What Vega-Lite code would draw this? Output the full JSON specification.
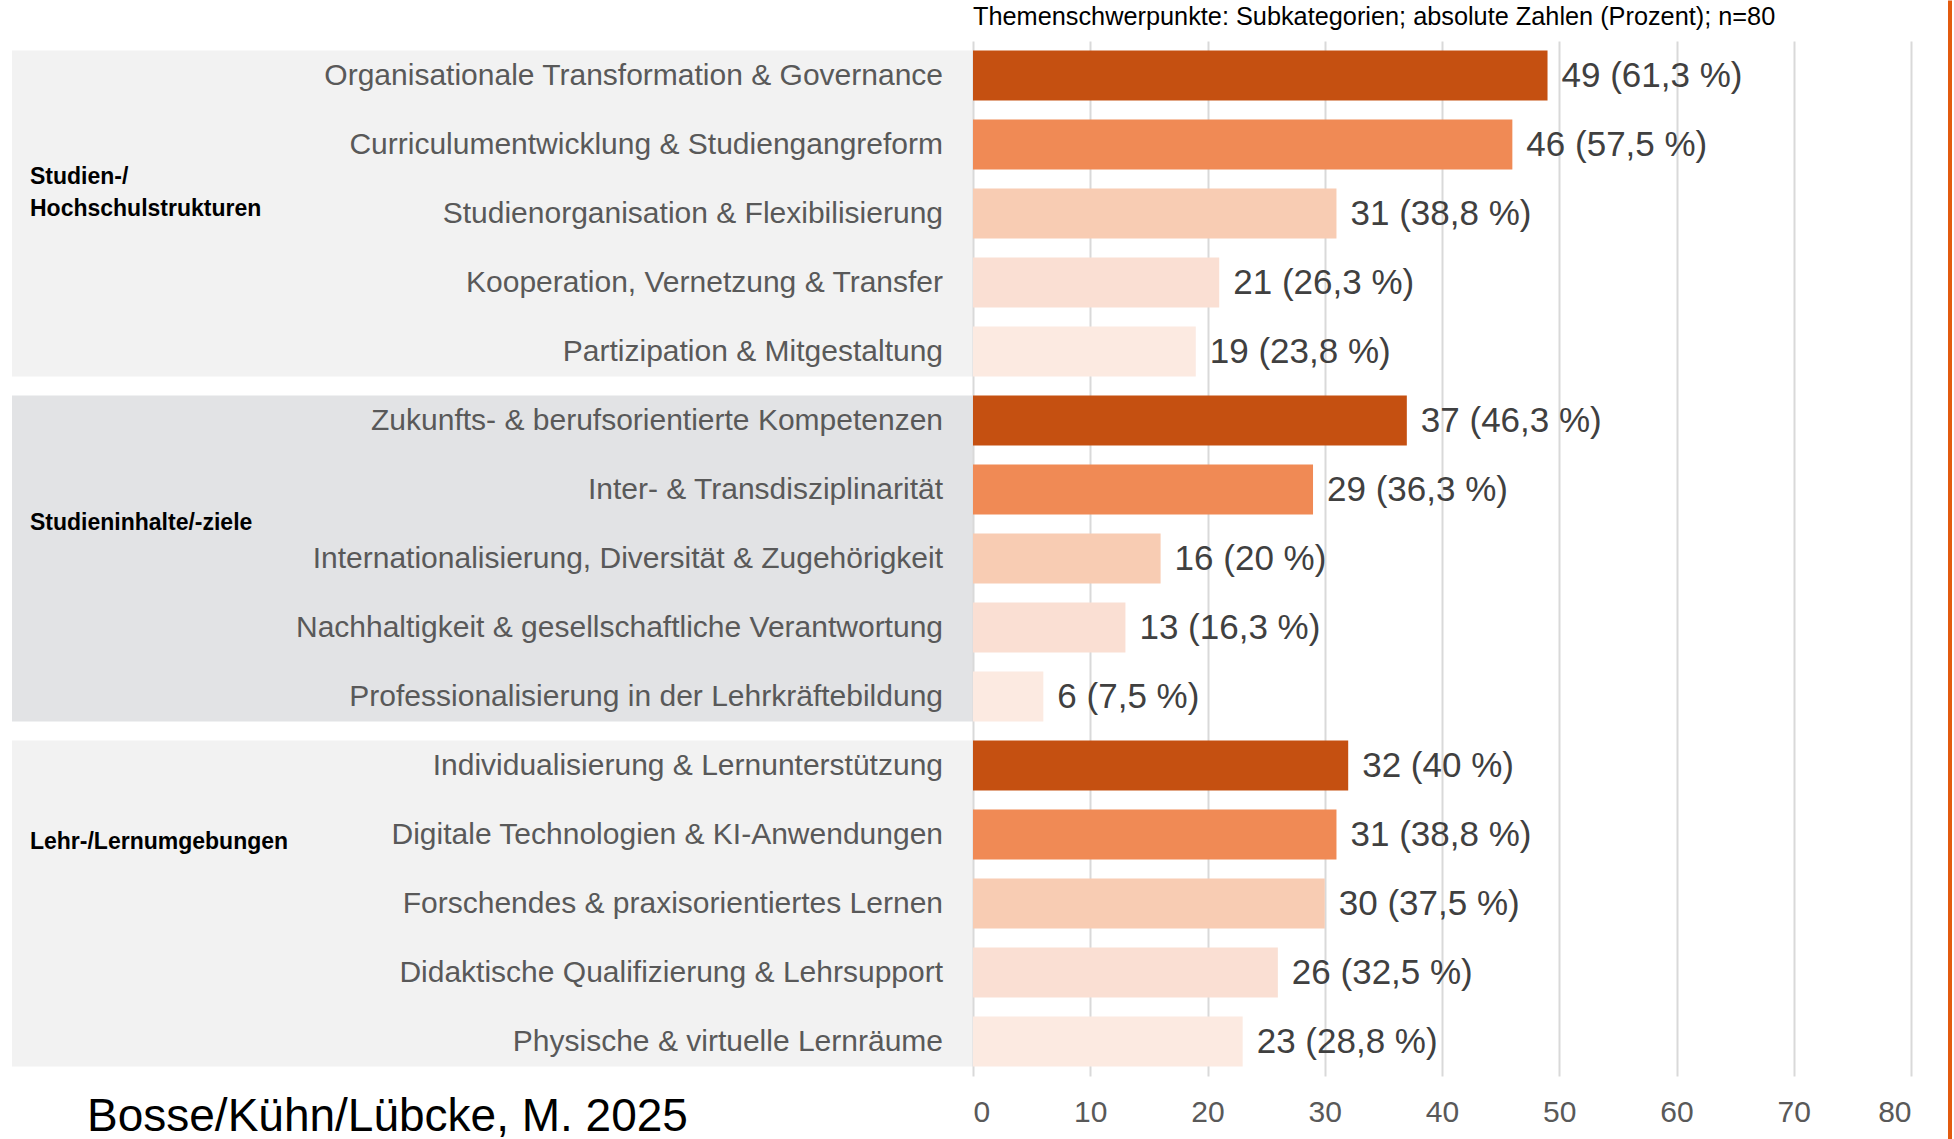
{
  "$schema": "https://vega.github.io/schema/vega-lite/v6.json",
  "padding": {"left": 12, "top": 0, "right": 0, "bottom": 0},
  "background": "#FFFFFF",
  "config": {"view": {"stroke": null}, "font": "Liberation Sans"},
  "datasets": {
    "rows": [
      {"group": "G1", "rank": 1, "category": "Organisationale Transformation & Governance", "count": 49, "label": "49 (61,3 %)"},
      {"group": "G1", "rank": 2, "category": "Curriculumentwicklung & Studiengangreform", "count": 46, "label": "46 (57,5 %)"},
      {"group": "G1", "rank": 3, "category": "Studienorganisation & Flexibilisierung", "count": 31, "label": "31 (38,8 %)"},
      {"group": "G1", "rank": 4, "category": "Kooperation, Vernetzung & Transfer", "count": 21, "label": "21 (26,3 %)"},
      {"group": "G1", "rank": 5, "category": "Partizipation & Mitgestaltung", "count": 19, "label": "19 (23,8 %)"},
      {"group": "G2", "rank": 1, "category": "Zukunfts- & berufsorientierte Kompetenzen", "count": 37, "label": "37 (46,3 %)"},
      {"group": "G2", "rank": 2, "category": "Inter- & Transdisziplinarität", "count": 29, "label": "29 (36,3 %)"},
      {"group": "G2", "rank": 3, "category": "Internationalisierung, Diversität & Zugehörigkeit", "count": 16, "label": "16 (20 %)"},
      {"group": "G2", "rank": 4, "category": "Nachhaltigkeit & gesellschaftliche Verantwortung", "count": 13, "label": "13 (16,3 %)"},
      {"group": "G2", "rank": 5, "category": "Professionalisierung in der Lehrkräftebildung", "count": 6, "label": "6 (7,5 %)"},
      {"group": "G3", "rank": 1, "category": "Individualisierung & Lernunterstützung", "count": 32, "label": "32 (40 %)"},
      {"group": "G3", "rank": 2, "category": "Digitale Technologien & KI-Anwendungen", "count": 31, "label": "31 (38,8 %)"},
      {"group": "G3", "rank": 3, "category": "Forschendes & praxisorientiertes Lernen", "count": 30, "label": "30 (37,5 %)"},
      {"group": "G3", "rank": 4, "category": "Didaktische Qualifizierung & Lehrsupport", "count": 26, "label": "26 (32,5 %)"},
      {"group": "G3", "rank": 5, "category": "Physische & virtuelle Lernräume", "count": 23, "label": "23 (28,8 %)"}
    ],
    "groups": [
      {"group": "G1", "label": ["Studien-/", "Hochschulstrukturen"], "first": "Organisationale Transformation & Governance", "last": "Partizipation & Mitgestaltung", "anchor": "Studienorganisation & Flexibilisierung"},
      {"group": "G2", "label": ["Studieninhalte/-ziele"], "first": "Zukunfts- & berufsorientierte Kompetenzen", "last": "Professionalisierung in der Lehrkräftebildung", "anchor": "Internationalisierung, Diversität & Zugehörigkeit"},
      {"group": "G3", "label": ["Lehr-/Lernumgebungen"], "first": "Individualisierung & Lernunterstützung", "last": "Physische & virtuelle Lernräume", "anchor": "Digitale Technologien & KI-Anwendungen"}
    ]
  },
  "spacing": 37,
  "hconcat": [
    {
      "spacing": 0,
      "resolve": {"scale": {"y": "shared", "x": "independent"}},
      "hconcat": [
        {
          "width": 961,
          "height": 1035,
          "title": {"text": "Bosse/Kühn/Lübcke, M. 2025", "orient": "bottom", "anchor": "start", "fontSize": 46, "fontWeight": "normal", "color": "#000000", "dx": 75, "offset": 19, "font": "Liberation Sans"},
          "data": {"name": "groups"},
          "layer": [
            {
              "mark": {"type": "rect"},
              "encoding": {
                "x": {"datum": 0, "type": "quantitative", "scale": {"domain": [0, 1], "nice": false, "zero": false}, "axis": null},
                "x2": {"datum": 1},
                "y": {"field": "first", "type": "nominal", "bandPosition": 0, "axis": null,
                  "scale": {"domain": ["Organisationale Transformation & Governance", "Curriculumentwicklung & Studiengangreform", "Studienorganisation & Flexibilisierung", "Kooperation, Vernetzung & Transfer", "Partizipation & Mitgestaltung", "Zukunfts- & berufsorientierte Kompetenzen", "Inter- & Transdisziplinarität", "Internationalisierung, Diversität & Zugehörigkeit", "Nachhaltigkeit & gesellschaftliche Verantwortung", "Professionalisierung in der Lehrkräftebildung", "Individualisierung & Lernunterstützung", "Digitale Technologien & KI-Anwendungen", "Forschendes & praxisorientiertes Lernen", "Didaktische Qualifizierung & Lehrsupport", "Physische & virtuelle Lernräume"], "paddingInner": 0.275, "paddingOuter": 0.1375}},
                "y2": {"field": "last", "bandPosition": 1},
                "fill": {"field": "group", "type": "nominal", "scale": {"domain": ["G1", "G2", "G3"], "range": ["#F2F2F2", "#E2E3E5", "#F2F2F2"]}, "legend": null}
              }
            },
            {
              "data": {"name": "rows"},
              "mark": {"type": "text", "align": "right", "baseline": "middle", "fontSize": 30, "color": "#595959"},
              "encoding": {
                "x": {"datum": 0.9688, "type": "quantitative"},
                "y": {"field": "category", "type": "nominal"},
                "text": {"field": "category"}
              }
            },
            {
              "transform": [{"filter": "datum.group === 'G1'"}],
              "mark": {"type": "text", "align": "left", "baseline": "middle", "fontSize": 23, "fontWeight": "bold", "color": "#000000", "lineHeight": 32, "dy": -37},
              "encoding": {
                "x": {"datum": 0.0187, "type": "quantitative"},
                "y": {"field": "anchor", "type": "nominal"},
                "text": {"field": "label"}
              }
            },
            {
              "transform": [{"filter": "datum.group === 'G2'"}],
              "mark": {"type": "text", "align": "left", "baseline": "middle", "fontSize": 23, "fontWeight": "bold", "color": "#000000", "dy": -36},
              "encoding": {
                "x": {"datum": 0.0187, "type": "quantitative"},
                "y": {"field": "anchor", "type": "nominal"},
                "text": {"field": "label"}
              }
            },
            {
              "transform": [{"filter": "datum.group === 'G3'"}],
              "mark": {"type": "text", "align": "left", "baseline": "middle", "fontSize": 23, "fontWeight": "bold", "color": "#000000", "dy": 7},
              "encoding": {
                "x": {"datum": 0.0187, "type": "quantitative"},
                "y": {"field": "anchor", "type": "nominal"},
                "text": {"field": "label"}
              }
            }
          ]
        },
        {
          "width": 938,
          "height": 1035,
          "title": {"text": "Themenschwerpunkte: Subkategorien; absolute Zahlen (Prozent); n=80", "anchor": "start", "fontSize": 25.3, "fontWeight": "normal", "color": "#000000", "offset": 14, "dy": 3, "font": "Liberation Sans"},
          "data": {"name": "rows"},
          "encoding": {
            "y": {"field": "category", "type": "nominal", "axis": null,
              "scale": {"domain": ["Organisationale Transformation & Governance", "Curriculumentwicklung & Studiengangreform", "Studienorganisation & Flexibilisierung", "Kooperation, Vernetzung & Transfer", "Partizipation & Mitgestaltung", "Zukunfts- & berufsorientierte Kompetenzen", "Inter- & Transdisziplinarität", "Internationalisierung, Diversität & Zugehörigkeit", "Nachhaltigkeit & gesellschaftliche Verantwortung", "Professionalisierung in der Lehrkräftebildung", "Individualisierung & Lernunterstützung", "Digitale Technologien & KI-Anwendungen", "Forschendes & praxisorientiertes Lernen", "Didaktische Qualifizierung & Lehrsupport", "Physische & virtuelle Lernräume"], "paddingInner": 0.275, "paddingOuter": 0.1375}},
            "x": {"field": "count", "type": "quantitative",
              "scale": {"domain": [0, 80], "nice": false, "zero": true},
              "axis": {"values": [0, 10, 20, 30, 40, 50, 60, 70, 80], "grid": true, "gridColor": "#D9D9D9", "gridWidth": 2, "domain": false, "ticks": false, "labelFontSize": 30, "labelColor": "#595959", "labelPadding": 21, "title": null, "labelFont": "Liberation Sans"}}
          },
          "layer": [
            {
              "mark": {"type": "bar"},
              "encoding": {
                "color": {"field": "rank", "type": "ordinal", "scale": {"domain": [1, 2, 3, 4, 5], "range": ["#C55011", "#F08A55", "#F8CCB3", "#FADFD3", "#FCEAE1"]}, "legend": null}
              }
            },
            {
              "mark": {"type": "text", "align": "left", "baseline": "middle", "dx": 14, "fontSize": 35, "color": "#404040"},
              "encoding": {"text": {"field": "label"}}
            }
          ]
        }
      ]
    },
    {
      "width": 4,
      "height": 1035,
      "data": {"values": [{"edge": 1}]},
      "mark": {"type": "rect", "color": "#E35B0F"},
      "encoding": {
        "x": {"datum": 0, "type": "quantitative", "scale": {"domain": [0, 1], "nice": false, "zero": false}, "axis": null},
        "x2": {"datum": 1},
        "y": {"datum": 1075.5, "type": "quantitative", "scale": {"domain": [0, 1035], "nice": false, "zero": false}, "axis": null},
        "y2": {"datum": -64}
      }
    }
  ]
}
